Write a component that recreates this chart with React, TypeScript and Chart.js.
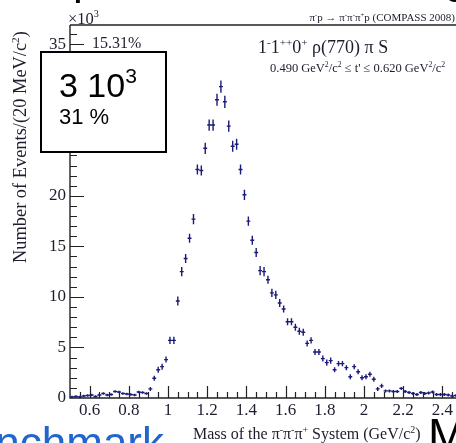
import React, { useEffect, useRef } from "react";
import { Chart, registerables } from "chart.js";

Chart.register(...registerables);

// ---- data (thousands of events per 20 MeV/c^2 bin) ----
const BIN_START = 0.5;
const BIN_WIDTH = 0.02;
const eventsK = [
  0.1, 0.15, 0.1, 0.2, 0.25, 0.3, 0.15, 0.3, 0.45, 0.3,
  0.35, 0.65, 0.6, 0.45, 0.4, 0.35, 0.3, 0.6, 0.55, 0.45,
  0.9, 1.95, 2.8, 3.1, 3.8, 5.7, 5.7, 9.6, 12.5, 13.8,
  15.8, 17.7, 22.6, 22.5, 24.7, 27.0, 27.0, 29.5, 30.8, 29.3,
  26.9, 24.9, 25.1, 22.6, 20.1, 17.5, 15.6, 14.4, 12.6, 12.5,
  11.7, 10.4, 10.2, 9.4, 8.8, 7.55, 7.55, 7.0, 6.6, 6.5,
  5.4, 5.7, 4.55, 4.55, 3.9, 3.5, 3.7, 2.8, 3.4, 3.4,
  3.0, 2.1, 3.1, 2.6, 2.0, 2.1, 2.35, 1.85, 0.9, 1.2,
  0.7, 0.7, 0.65, 0.65, 0.95, 0.65, 0.55, 0.45, 0.35, 0.55,
  0.45, 0.5, 0.6, 0.35, 0.35, 0.35, 0.3, 0.2, 0.25, 0.2,
];
const errorsK = [
  0.12, 0.12, 0.12, 0.12, 0.12, 0.12, 0.12, 0.12, 0.12, 0.12,
  0.12, 0.12, 0.12, 0.12, 0.12, 0.12, 0.12, 0.12, 0.12, 0.12,
  0.2, 0.25, 0.3, 0.3, 0.3, 0.35, 0.35, 0.45, 0.45, 0.45,
  0.45, 0.5, 0.5, 0.5, 0.55, 0.55, 0.55, 0.6, 0.6, 0.6,
  0.55, 0.55, 0.55, 0.5, 0.5, 0.45, 0.45, 0.45, 0.45, 0.45,
  0.4, 0.4, 0.4, 0.4, 0.35, 0.35, 0.35, 0.35, 0.35, 0.35,
  0.3, 0.3, 0.3, 0.3, 0.3, 0.3, 0.3, 0.25, 0.25, 0.25,
  0.25, 0.25, 0.25, 0.25, 0.25, 0.25, 0.25, 0.25, 0.2, 0.2,
  0.15, 0.15, 0.15, 0.15, 0.15, 0.15, 0.15, 0.15, 0.15, 0.15,
  0.15, 0.15, 0.15, 0.15, 0.15, 0.15, 0.15, 0.15, 0.15, 0.15,
];
const xTickLabels = [0.6, 0.8, 1.0, 1.2, 1.4, 1.6, 1.8, 2.0, 2.2, 2.4];
const yTickLabels = [0, 5, 10, 15, 20, 25, 30, 35];
const X_MIN = 0.5;
const X_MAX = 2.5;
const Y_MIN = 0;
const Y_MAX = 36.9;

const SERIF = '"Liberation Serif", "DejaVu Serif", serif';
const SANS = '"Liberation Sans", Arial, sans-serif';
const INK = "#1d1d2e";
const MARK = "#1a1a78";

type Piece = [string, boolean];

function drawRich(
  ctx: CanvasRenderingContext2D,
  pieces: Piece[],
  x: number,
  y: number,
  size: number,
  family: string,
  color: string,
  align: "left" | "right" = "left"
) {
  const sup = size * 0.62;
  ctx.fillStyle = color;
  ctx.textAlign = "left";
  ctx.textBaseline = "alphabetic";
  const widths = pieces.map(([t, s]) => {
    ctx.font = `${s ? sup : size}px ${family}`;
    return ctx.measureText(t).width;
  });
  const total = widths.reduce((a, b) => a + b, 0);
  let cx = align === "right" ? x - total : x;
  pieces.forEach(([t, s], i) => {
    ctx.font = `${s ? sup : size}px ${family}`;
    ctx.fillText(t, cx, s ? y - size * 0.4 : y);
    cx += widths[i];
  });
}

const rootPlugin = {
  id: "rootStyle",
  beforeDatasetsDraw(chart: any) {
    const { ctx, chartArea: a, scales } = chart;
    const x = scales.x;
    const y = scales.y;
    ctx.save();
    ctx.strokeStyle = "#222";
    ctx.lineWidth = 1.4;
    ctx.beginPath();
    ctx.moveTo(a.left, a.top);
    ctx.lineTo(a.left, a.bottom);
    ctx.lineTo(a.right, a.bottom);
    ctx.moveTo(a.left, a.top);
    ctx.lineTo(a.right, a.top);
    ctx.stroke();
    ctx.lineWidth = 1.2;
    ctx.beginPath();
    for (let i = 1; i * 0.05 < X_MAX - X_MIN - 1e-9; i++) {
      const v = X_MIN + i * 0.05;
      const px = Math.round(x.getPixelForValue(v)) + 0.5;
      const major = xTickLabels.some((t) => Math.abs(t - v) < 1e-6);
      ctx.moveTo(px, a.bottom);
      ctx.lineTo(px, a.bottom - (major ? 12 : 6));
    }
    for (let v = 1; v < Y_MAX; v++) {
      const py = Math.round(y.getPixelForValue(v)) + 0.5;
      const major = yTickLabels.includes(v);
      ctx.moveTo(a.left, py);
      ctx.lineTo(a.left + (major ? 14 : 7), py);
    }
    ctx.stroke();
    ctx.restore();
  },
  afterDatasetsDraw(chart: any) {
    const { ctx, scales } = chart;
    const x = scales.x;
    const y = scales.y;
    ctx.save();
    ctx.strokeStyle = MARK;
    ctx.lineWidth = 1.4;
    ctx.beginPath();
    chart.data.datasets[0].data.forEach((p: any) => {
      const px = x.getPixelForValue(p.x);
      const x0 = x.getPixelForValue(p.x - BIN_WIDTH / 2);
      const x1 = x.getPixelForValue(p.x + BIN_WIDTH / 2);
      const py = y.getPixelForValue(p.y);
      const y0 = y.getPixelForValue(Math.max(0, p.y - p.err));
      const y1 = y.getPixelForValue(p.y + p.err);
      ctx.moveTo(x0, py);
      ctx.lineTo(x1, py);
      ctx.moveTo(px, y0);
      ctx.lineTo(px, y1);
    });
    ctx.stroke();
    ctx.restore();
  },
  afterDraw(chart: any) {
    const { ctx } = chart;
    ctx.save();
    drawRich(ctx, [["\u00d710", false], ["3", true]], 68, 24, 16.5, SERIF, INK);
    drawRich(ctx, [["15.31%", false]], 92, 48, 16, SERIF, INK);
    drawRich(
      ctx,
      [
        ["\u03c0", false], ["-", true], ["p \u2192 \u03c0", false], ["-", true],
        ["\u03c0", false], ["-", true], ["\u03c0", false], ["+", true],
        ["p (COMPASS 2008)", false],
      ],
      455, 21, 11, SERIF, INK, "right"
    );
    drawRich(
      ctx,
      [["1", false], ["-", true], ["1", false], ["++", true], ["0", false], ["+", true], [" \u03c1(770) \u03c0 S", false]],
      258, 53, 18, SERIF, INK
    );
    drawRich(
      ctx,
      [
        ["0.490 GeV", false], ["2", true], ["/c", false], ["2", true],
        [" \u2264 t' \u2264 0.620 GeV", false], ["2", true], ["/c", false], ["2", true],
      ],
      270, 72, 12.5, SERIF, INK
    );
    ctx.save();
    ctx.translate(26, 263);
    ctx.rotate(-Math.PI / 2);
    drawRich(ctx, [["Number of Events/(20 MeV/c", false], ["2", true], [")", false]], 0, 0, 18.4, SERIF, INK);
    ctx.restore();
    drawRich(
      ctx,
      [
        ["Mass of the \u03c0", false], ["-", true], ["\u03c0", false], ["-", true],
        ["\u03c0", false], ["+", true], [" System (GeV/c", false], ["2", true], [")", false],
      ],
      193, 439, 16, SERIF, INK
    );
    ctx.fillStyle = "#fff";
    ctx.fillRect(41, 52, 125, 100);
    ctx.strokeStyle = "#000";
    ctx.lineWidth = 2;
    ctx.strokeRect(41, 52, 125, 100);
    drawRich(ctx, [["3 10", false], ["3", true]], 59, 97, 34, SANS, "#000");
    drawRich(ctx, [["31 %", false]], 59, 124, 22, SANS, "#000");
    ctx.fillStyle = "#2266cc";
    ctx.font = `44px ${SANS}`;
    ctx.textAlign = "right";
    ctx.fillText("Benchmark", 164, 458);
    ctx.fillStyle = "#000";
    ctx.textAlign = "left";
    ctx.font = `46px ${SANS}`;
    ctx.fillText("M", 428, 451);
    ctx.font = `44px ${SANS}`;
    ctx.fillText("p", 73, -6);
    ctx.fillText("g", 444, -7);
    ctx.restore();
  },
};

export default function App() {
  const ref = useRef<HTMLCanvasElement | null>(null);
  useEffect(() => {
    if (!ref.current) return;
    const points = eventsK.map((v, i) => ({
      x: BIN_START + BIN_WIDTH * (i + 0.5),
      y: v,
      err: errorsK[i],
    }));
    const fmt = (v: any) => String(Number(Number(v).toFixed(2)));
    const chart = new Chart(ref.current, {
      type: "scatter",
      data: {
        datasets: [
          {
            data: points,
            pointRadius: 0,
            showLine: false,
            borderColor: MARK,
            backgroundColor: MARK,
          },
        ],
      },
      options: {
        responsive: false,
        animation: false,
        events: [],
        layout: { padding: { top: 25, right: 8, left: 0, bottom: 0 } },
        plugins: {
          legend: { display: false },
          tooltip: { enabled: false },
        },
        scales: {
          x: {
            type: "linear",
            min: X_MIN,
            max: X_MAX,
            grid: { display: false, drawTicks: false },
            border: { display: false },
            afterBuildTicks: (s: any) => {
              s.ticks = xTickLabels.map((v) => ({ value: v }));
            },
            afterFit: (s: any) => {
              s.height = 45;
            },
            ticks: {
              color: INK,
              font: { family: SERIF, size: 17 },
              padding: 2,
              maxRotation: 0,
              autoSkip: false,
              callback: fmt,
            },
          },
          y: {
            type: "linear",
            min: Y_MIN,
            max: Y_MAX,
            grid: { display: false, drawTicks: false },
            border: { display: false },
            afterBuildTicks: (s: any) => {
              s.ticks = yTickLabels.map((v) => ({ value: v }));
            },
            afterFit: (s: any) => {
              s.width = 70;
            },
            ticks: {
              color: INK,
              font: { family: SERIF, size: 17 },
              padding: 4,
              autoSkip: false,
              callback: fmt,
            },
          },
        },
      },
      plugins: [rootPlugin],
    } as any);
    return () => chart.destroy();
  }, []);
  return (
    <div
      style={{
        position: "fixed",
        left: 0,
        top: 0,
        width: 456,
        height: 443,
        overflow: "hidden",
        background: "#fff",
      }}
    >
      <canvas ref={ref} width={470} height={443} style={{ display: "block", width: 470, height: 443 }} />
    </div>
  );
}
